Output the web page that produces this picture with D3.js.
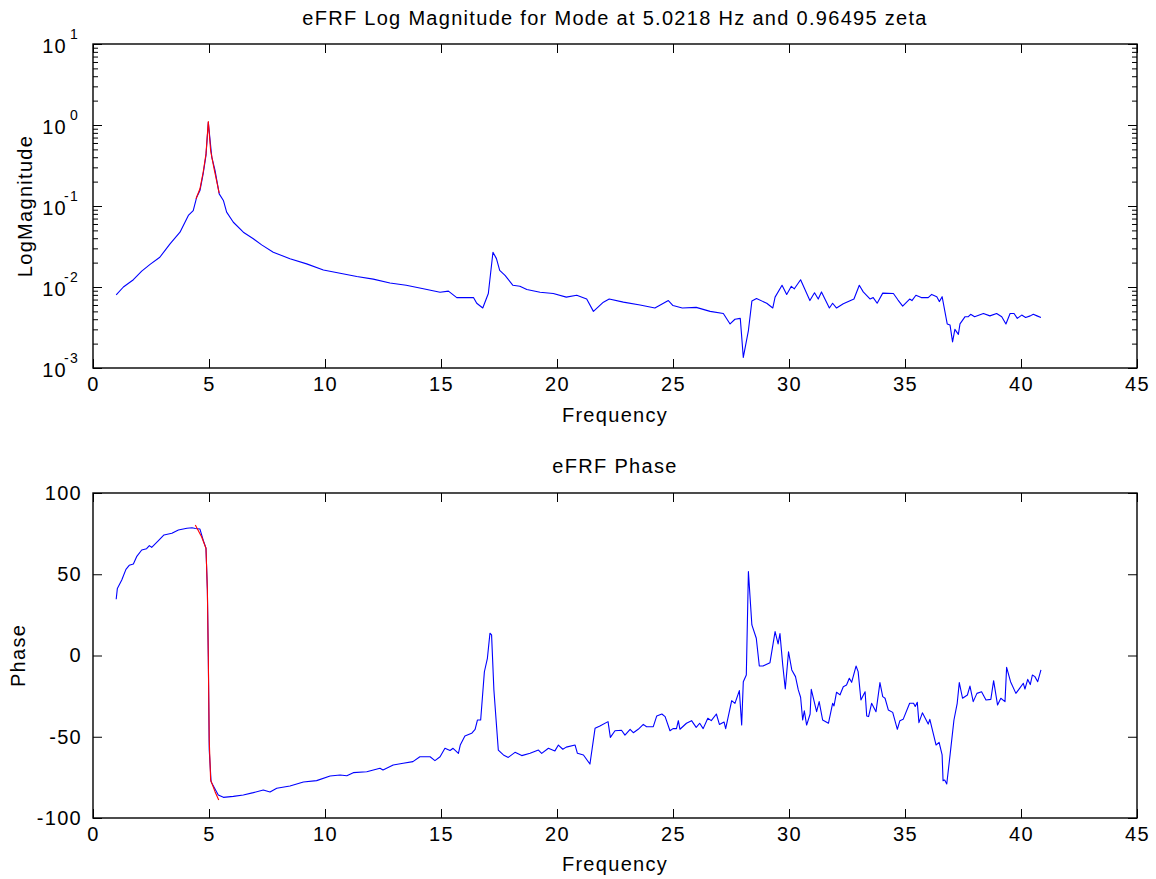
<!DOCTYPE html>
<html>
<head>
<meta charset="utf-8">
<script src="https://cdn.jsdelivr.net/npm/d3@7/dist/d3.min.js"></script>
<style>
  body { margin: 0; background: #fff; }
  svg text { font-family: "Liberation Sans", Arial, Helvetica, sans-serif; fill: #000; letter-spacing: 1.3px; }
</style>
</head>
<body>
<svg id="chart" width="1156" height="879"></svg>
<script>
// measured eFRF magnitude (blue)
const magFreq = [1.0, 1.31, 1.74, 2.10, 2.46, 2.88, 3.32, 3.75, 4.11, 4.32, 4.47, 4.61, 4.75, 4.87, 4.97, 5.12, 5.26, 5.44, 5.62, 5.76,
  6.05, 6.48, 6.91, 7.27, 7.77, 8.49, 9.21, 9.93, 10.65, 11.37, 12.08, 12.8, 13.5, 14.24, 14.96, 15.32, 15.68, 16.1, 16.4, 16.54,
  16.8, 17.04, 17.24, 17.39, 17.53, 17.76, 18.1, 18.4, 18.7, 19.27, 19.84, 20.4, 20.85, 21.28, 21.57, 22.0, 22.25, 22.86, 23.58, 24.22,
  24.8, 25.0, 25.4, 26.0, 26.6, 27.17, 27.46, 27.67, 27.9, 28.03, 28.25, 28.4, 28.6, 29.04, 29.3, 29.4, 29.7, 29.9, 30.1, 30.23,
  30.5, 30.9, 31.1, 31.26, 31.4, 31.74, 31.88, 32.05, 32.34, 32.8, 33.03, 33.2, 33.5, 33.63, 33.8, 34.04, 34.5, 34.7, 34.9, 35.2,
  35.3, 35.47, 35.7, 36.0, 36.15, 36.37, 36.48, 36.6, 36.82, 36.94, 37.05, 37.15, 37.3, 37.37, 37.59, 37.73, 37.83, 38.0, 38.38, 38.66,
  38.95, 39.17, 39.35, 39.53, 39.7, 39.84, 40.03, 40.2, 40.4, 40.53, 40.69, 40.86];
const magValue = [0.0080, 0.0100, 0.0123, 0.0157, 0.0190, 0.0233, 0.0341, 0.0475, 0.0764, 0.0879, 0.1285, 0.155, 0.251, 0.420, 1.08, 0.401, 0.275, 0.141, 0.117, 0.084,
  0.063, 0.0475, 0.0394, 0.0331, 0.0269, 0.0223, 0.0193, 0.0162, 0.0148, 0.0135, 0.0125, 0.0112, 0.0105, 0.0095, 0.0086, 0.0089, 0.0074, 0.0074, 0.0074, 0.0063,
  0.0055, 0.0083, 0.0269, 0.0224, 0.0160, 0.0139, 0.0105, 0.0102, 0.0093, 0.0086, 0.0083, 0.0075, 0.0079, 0.0071, 0.0050, 0.0065, 0.0071, 0.0065, 0.0060, 0.0055,
  0.0068, 0.0059, 0.0055, 0.0056, 0.0050, 0.0047, 0.0035, 0.0040, 0.0041, 0.00135, 0.0029, 0.0067, 0.0072, 0.0063, 0.0055, 0.0075, 0.0105, 0.0081, 0.0102, 0.0095,
  0.0123, 0.0068, 0.0085, 0.0071, 0.0087, 0.0055, 0.0063, 0.0055, 0.0062, 0.0071, 0.0105, 0.0087, 0.0071, 0.0074, 0.0063, 0.0084, 0.0083, 0.0069, 0.0058, 0.0071,
  0.0068, 0.0079, 0.0074, 0.0074, 0.0081, 0.0076, 0.0066, 0.0076, 0.0035, 0.0034, 0.0021, 0.0030, 0.0026, 0.0035, 0.0043, 0.0043, 0.0046, 0.0043, 0.0047, 0.0044,
  0.0047, 0.0043, 0.0035, 0.0047, 0.0047, 0.0041, 0.0045, 0.0042, 0.0044, 0.0046, 0.0044, 0.0042];

// fitted mode magnitude (red)
const fitMagFreq = [4.44, 4.61, 4.75, 4.87, 4.97, 5.07, 5.22, 5.44];
const fitMagValue = [0.123, 0.163, 0.263, 0.44, 1.10, 0.484, 0.288, 0.144];

// measured eFRF phase (blue)
const phaseFreq = [1.0, 1.05, 1.24, 1.42, 1.56, 1.74, 1.88, 2.1, 2.31, 2.43, 2.53, 2.81, 3.06, 3.4, 3.68, 4.05, 4.27, 4.41, 4.61, 4.75,
  4.87, 4.93, 4.97, 5.01, 5.09, 5.4, 5.62, 6.05, 6.48, 6.91, 7.34, 7.63, 7.92, 8.49, 9.07, 9.64, 10.22, 10.65, 10.94, 11.22,
  11.8, 12.37, 12.5, 12.94, 13.37, 13.79, 14.09, 14.53, 14.74, 14.96, 15.17, 15.39, 15.52, 15.75, 15.83, 16.03, 16.32, 16.47, 16.57, 16.71,
  16.87, 17.0, 17.11, 17.18, 17.28, 17.47, 17.69, 17.9, 18.19, 18.48, 18.84, 19.2, 19.34, 19.63, 19.91, 20.06, 20.25, 20.4, 20.78, 20.88,
  21.14, 21.42, 21.64, 21.85, 22.2, 22.3, 22.5, 22.78, 22.93, 23.15, 23.29, 23.5, 23.72, 23.86, 24.15, 24.3, 24.52, 24.66, 24.87, 25.0,
  25.15, 25.23, 25.3, 25.58, 25.8, 26.0, 26.15, 26.3, 26.5, 26.65, 26.87, 27.0, 27.2, 27.27, 27.53, 27.67, 27.86, 27.96, 28.03, 28.16,
  28.25, 28.4, 28.59, 28.72, 28.88, 29.18, 29.4, 29.53, 29.61, 29.73, 29.84, 29.98, 30.12, 30.28, 30.4, 30.5, 30.59, 30.66, 30.76, 30.91,
  30.96, 31.19, 31.3, 31.45, 31.7, 31.88, 31.94, 32.05, 32.2, 32.34, 32.48, 32.6, 32.7, 32.89, 32.98, 33.1, 33.28, 33.35, 33.43, 33.56,
  33.75, 33.92, 34.04, 34.14, 34.28, 34.47, 34.67, 34.78, 34.92, 35.2, 35.37, 35.44, 35.53, 35.6, 35.75, 36.0, 36.07, 36.34, 36.47, 36.6,
  36.64, 36.71, 36.8, 36.95, 37.11, 37.25, 37.34, 37.48, 37.69, 37.8, 37.94, 38.1, 38.3, 38.49, 38.7, 38.82, 38.99, 39.13, 39.31, 39.38,
  39.55, 39.78, 39.94, 40.1, 40.17, 40.29, 40.4, 40.49, 40.6, 40.72, 40.86];
const phaseValue = [34.6, 41.3, 46.5, 53, 55.5, 56.3, 60.8, 64.9, 65.7, 67.6, 66.5, 70.6, 74.2, 75.2, 77.2, 78.3, 78.6, 78.2, 77.8, 71,
  66, 40, -1, -58, -77.7, -85.8, -87.3, -86.7, -85.8, -84.4, -82.8, -84, -81.7, -80.3, -77.8, -77, -74.2, -73.5, -74, -72.1,
  -71.5, -69.4, -70.5, -67.4, -66.3, -65.3, -62.3, -62.3, -64.7, -62.3, -57.1, -58.5, -57.1, -60.2, -55.1, -49.5, -47.9, -45.4, -39.7, -39.7,
  -10, -1.7, 13.7, 12.7, -21.2, -58.2, -61.2, -62.7, -59.6, -61.6, -60.2, -58.2, -60.2, -57.1, -58.7, -55.1, -57.7, -56.4, -55.1, -60.2,
  -61.2, -66.8, -44.8, -43.4, -40.7, -50.4, -46.3, -46, -49, -45.4, -47.5, -45.4, -42.4, -43.8, -43.8, -37.2, -36, -37.6, -46.3, -45,
  -45, -40.1, -45.4, -41.7, -40.1, -44.2, -41.7, -45, -38.6, -40.1, -36, -42.4, -40.9, -45, -27.8, -29.5, -21.6, -42.8, -16.1, -12,
  51.6, 18.8, 10.6, -6.5, -6.5, -4.4, 14.7, 7.1, 13.5, -5.8, -20.6, 2.3, -8.9, -13, -21.2, -25.7, -39.7, -34, -42.8, -36,
  -20.8, -34.6, -28.4, -39.7, -41.7, -29.4, -31, -22.6, -24.2, -19.2, -18.2, -14, -16.5, -6.5, -9.9, -27.4, -22.3, -37.2, -37.6, -29.4,
  -34.6, -16.7, -25.3, -26.3, -33.5, -35, -45.4, -40.1, -39.3, -29.4, -29.4, -31.4, -28.8, -41.3, -35.3, -42.2, -39.3, -55.1, -53.5, -61.2,
  -77, -76.6, -79.1, -60.2, -39.7, -29.4, -16.7, -26.3, -24.3, -18.8, -28.4, -23.3, -22.3, -27.4, -27, -15.5, -30.5, -26.3, -28.4, -7.3,
  -16.1, -23.3, -20.2, -17.1, -20.6, -14.7, -17.9, -12, -13, -16.1, -8.9];

// fitted mode phase (red)
const fitPhaseFreq = [4.41, 4.68, 4.87, 4.93, 4.97, 5.01, 5.07, 5.26, 5.42];
const fitPhaseValue = [80.3, 73.1, 66, 40.3, -0.7, -52, -76.6, -83.8, -88.9];

const freqTicks = [0, 5, 10, 15, 20, 25, 30, 35, 40, 45];
const magTicks = [1e-3, 1e-2, 1e-1, 1e0, 1e1];
const phaseTicks = [-100, -50, 0, 50, 100];

const svg = d3.select("#chart");
const left = 93, right = 1137;
const FONT = 20;

// plain hyphen minus, like the original figure
const plain = d => String(d);

function zip(xs, ys) {
  return xs.map((x, i) => ({ x, y: ys[i] }));
}

function panel({ top, bottom, y, yTicks, logLabels, minorTicks, title, titleY, ylabel, ylabelX, xlabelY, series }) {
  const x = d3.scaleLinear().domain([0, 45]).range([left, right]);
  y.range([bottom, top]);
  const g = svg.append("g");

  const line = d3.line().x(d => x(d.x)).y(d => y(d.y));
  series.forEach(s => {
    g.append("path")
      .datum(s.data)
      .attr("fill", "none")
      .attr("stroke", s.color)
      .attr("stroke-width", 1.1)
      .attr("stroke-linejoin", "round")
      .attr("d", line);
  });

  const tickStyle = sel => {
    sel.select(".domain").remove();
    sel.selectAll(".tick line").attr("stroke", "#000").attr("stroke-width", 1);
    sel.selectAll(".tick text").attr("font-size", FONT).attr("fill", "#000");
  };

  g.append("g").attr("transform", `translate(0,${bottom})`)
    .call(d3.axisBottom(x).tickValues(freqTicks).tickSizeInner(-9).tickSizeOuter(0).tickPadding(9).tickFormat(plain))
    .call(tickStyle);
  g.append("g").attr("transform", `translate(0,${top})`)
    .call(d3.axisTop(x).tickValues(freqTicks).tickSizeInner(-9).tickSizeOuter(0).tickFormat(""))
    .call(tickStyle);

  const yl = g.append("g").attr("transform", `translate(${left},0)`)
    .call(d3.axisLeft(y).tickValues(yTicks).tickSizeInner(-9).tickSizeOuter(0).tickPadding(11).tickFormat(logLabels ? "" : plain))
    .call(tickStyle);
  g.append("g").attr("transform", `translate(${right},0)`)
    .call(d3.axisRight(y).tickValues(yTicks).tickSizeInner(-9).tickSizeOuter(0).tickFormat(""))
    .call(tickStyle);

  if (logLabels) {
    yl.selectAll(".tick text").each(function(d) {
      const t = d3.select(this).attr("dy", null).attr("y", 8);
      t.text(null);
      t.append("tspan").attr("x", -26).text("10");
      t.append("tspan").attr("font-size", 14).attr("dy", -14).attr("x", -14).text(String(Math.round(Math.log10(d))));
    });
  }

  if (minorTicks) {
    g.append("g").attr("transform", `translate(${left},0)`)
      .call(d3.axisLeft(y).tickValues(minorTicks).tickSizeInner(-5).tickSizeOuter(0).tickFormat(""))
      .call(tickStyle);
    g.append("g").attr("transform", `translate(${right},0)`)
      .call(d3.axisRight(y).tickValues(minorTicks).tickSizeInner(-5).tickSizeOuter(0).tickFormat(""))
      .call(tickStyle);
  }

  g.append("rect")
    .attr("x", left).attr("y", top)
    .attr("width", right - left).attr("height", bottom - top)
    .attr("fill", "none").attr("stroke", "#000").attr("stroke-width", 1.4);

  svg.append("text").attr("x", (left + right) / 2).attr("y", titleY)
    .attr("text-anchor", "middle").attr("font-size", FONT).text(title);
  svg.append("text").attr("x", (left + right) / 2).attr("y", xlabelY)
    .attr("text-anchor", "middle").attr("font-size", FONT).text("Frequency");
  svg.append("text")
    .attr("transform", `translate(${ylabelX},${(top + bottom) / 2}) rotate(-90)`)
    .attr("text-anchor", "middle").attr("font-size", FONT).text(ylabel);
}

const minor = [];
for (let p = -3; p < 1; p++) for (let k = 2; k <= 9; k++) minor.push(k * Math.pow(10, p));

panel({
  top: 44, bottom: 368,
  y: d3.scaleLog().domain([1e-3, 1e1]),
  yTicks: magTicks,
  logLabels: true,
  minorTicks: minor,
  title: "eFRF Log Magnitude for Mode at 5.0218 Hz and 0.96495 zeta",
  titleY: 25,
  ylabel: "LogMagnitude",
  ylabelX: 32,
  xlabelY: 422,
  series: [
    { data: zip(magFreq, magValue), color: "#0000ff" },
    { data: zip(fitMagFreq, fitMagValue), color: "#ff0000" }
  ]
});

panel({
  top: 493, bottom: 818,
  y: d3.scaleLinear().domain([-100, 100]),
  yTicks: phaseTicks,
  title: "eFRF Phase",
  titleY: 473,
  ylabel: "Phase",
  ylabelX: 25,
  xlabelY: 871,
  series: [
    { data: zip(phaseFreq, phaseValue), color: "#0000ff" },
    { data: zip(fitPhaseFreq, fitPhaseValue), color: "#ff0000" }
  ]
});
</script>
</body>
</html>
